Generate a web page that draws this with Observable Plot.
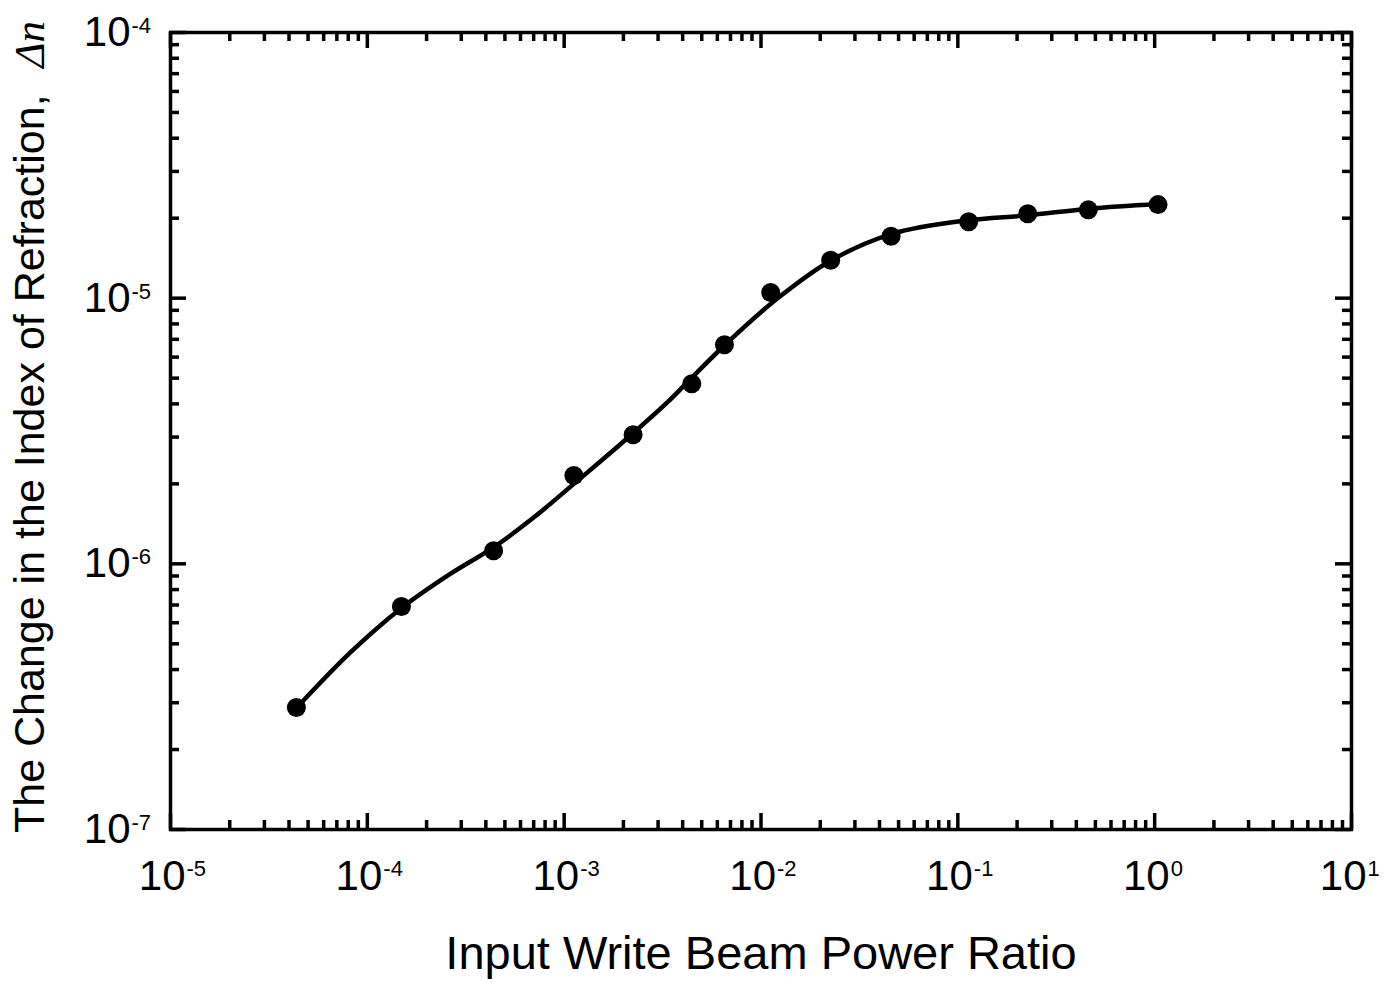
<!DOCTYPE html>
<html><head><meta charset="utf-8">
<script src="https://cdn.jsdelivr.net/npm/d3@7"></script>
<script src="https://cdn.jsdelivr.net/npm/@observablehq/plot@0.6"></script>
<style>body{margin:0;background:#fff}</style>
</head><body><div id="chart"></div>
<script>
// Measured data points (input write beam power ratio, Δn)
const pointX = [4.36e-5, 1.49e-4, 4.38e-4, 1.12e-3, 2.24e-3, 4.45e-3, 6.52e-3, 1.12e-2, 2.26e-2, 4.58e-2, 0.1135, 0.2265, 0.46, 1.04];
const pointY = [2.88e-7, 6.91e-7, 1.12e-6, 2.15e-6, 3.06e-6, 4.76e-6, 6.68e-6, 1.05e-5, 1.39e-5, 1.71e-5, 1.94e-5, 2.08e-5, 2.15e-5, 2.25e-5];
// Fitted smooth curve
const curveX = [4.41e-5, 8.23e-5, 1.476e-4, 2.65e-4, 4.40e-4, 7.02e-4, 1.12e-3, 1.59e-3, 2.26e-3, 3.34e-3, 4.51e-3, 6.76e-3, 1.21e-2, 2.28e-2, 4.68e-2, 0.110, 0.226, 0.465, 1.04];
const curveY = [2.89e-7, 4.65e-7, 6.78e-7, 9.18e-7, 1.156e-6, 1.496e-6, 2.00e-6, 2.49e-6, 3.12e-6, 4.05e-6, 5.07e-6, 6.81e-6, 9.97e-6, 1.39e-5, 1.75e-5, 1.96e-5, 2.05e-5, 2.17e-5, 2.26e-5];
// Tick labels (decade exponents)
const xDecades = [-5, -4, -3, -2, -1, 0, 1];
const yDecades = [-7, -6, -5, -4];
const xTitle = "Input Write Beam Power Ratio";
const yTitle = "The Change in the Index of Refraction,";
const yTitleSym = "Δn";

const points = pointX.map((x, i) => ({x, y: pointY[i]}));
const curve = curveX.map((x, i) => ({x, y: curveY[i]}));
const mults = [2, 3, 4, 5, 6, 7, 8, 9];
const xMajor = xDecades.map(e => Math.pow(10, e));
const xMinor = xDecades.slice(0, -1).flatMap(e => mults.map(m => m * Math.pow(10, e)));
const yMajor = yDecades.map(e => Math.pow(10, e));
const yMinor = yDecades.slice(0, -1).flatMap(e => mults.map(m => m * Math.pow(10, e)));
const expText = e => (e < 0 ? "-" + (-e) : String(e));

const W = 1395, H = 983, mL = 170, mR = 44, mT = 32, mB = 154;
const PH = H - mT - mB, PW = W - mL - mR;
const MAJ = 16, MIN = 9, TW = 3.5;
const font = "'Liberation Sans', Arial, Helvetica, sans-serif";

const chart = Plot.plot({
  width: W, height: H,
  marginLeft: mL, marginRight: mR, marginTop: mT, marginBottom: mB,
  x: {type: "log", domain: [1e-5, 10], axis: null},
  y: {type: "log", domain: [1e-7, 1e-4], axis: null},
  style: {fontFamily: font, background: "#fff", color: "#000", overflow: "visible"},
  marks: [
    // ticks (inward) on all four sides
    Plot.tickX(xMajor, {x: d => d, insetTop: PH - MAJ, strokeWidth: TW}),
    Plot.tickX(xMajor, {x: d => d, insetBottom: PH - MAJ, strokeWidth: TW}),
    Plot.tickX(xMinor, {x: d => d, insetTop: PH - MIN, strokeWidth: TW}),
    Plot.tickX(xMinor, {x: d => d, insetBottom: PH - MIN, strokeWidth: TW}),
    Plot.tickY(yMajor, {y: d => d, insetRight: PW - MAJ, strokeWidth: TW}),
    Plot.tickY(yMajor, {y: d => d, insetLeft: PW - MAJ, strokeWidth: TW}),
    Plot.tickY(yMinor, {y: d => d, insetRight: PW - MIN, strokeWidth: TW}),
    Plot.tickY(yMinor, {y: d => d, insetLeft: PW - MIN, strokeWidth: TW}),
    Plot.frame({stroke: "#000", strokeWidth: 3.5}),
    // curve and points
    Plot.line(curve, {x: "x", y: "y", curve: "catmull-rom", stroke: "#000", strokeWidth: 4.5}),
    Plot.dot(points, {x: "x", y: "y", r: 9.5, fill: "#000", stroke: null}),
    // x tick labels
    Plot.text(xDecades, {x: e => Math.pow(10, e), text: () => "10", frameAnchor: "bottom", textAnchor: "end", lineAnchor: "middle", dx: 15, dy: 47, fontSize: 42}),
    Plot.text(xDecades, {x: e => Math.pow(10, e), text: expText, frameAnchor: "bottom", textAnchor: "start", lineAnchor: "top", dx: 16, dy: 31, fontSize: 22}),
    // y tick labels
    Plot.text(yDecades, {y: e => Math.pow(10, e), text: () => "10", frameAnchor: "left", textAnchor: "end", lineAnchor: "middle", dx: -40, fontSize: 42}),
    Plot.text(yDecades, {y: e => Math.pow(10, e), text: expText, frameAnchor: "left", textAnchor: "start", lineAnchor: "top", dx: -39, dy: -15, fontSize: 22}),
    // axis titles
    Plot.text([xTitle], {text: d => d, frameAnchor: "bottom", lineAnchor: "bottom", dy: 139, fontSize: 47}),
    Plot.text([yTitle], {text: d => d, frameAnchor: "left", rotate: -90, textAnchor: "start", lineAnchor: "middle", dx: -140, dy: 402, fontSize: 43}),
    Plot.text([yTitleSym], {text: d => d, frameAnchor: "left", rotate: -90, textAnchor: "end", lineAnchor: "middle", dx: -140, dy: -410, fontSize: 43, fontStyle: "italic", fontFamily: "'Liberation Serif', 'Times New Roman', serif"})
  ]
});
document.getElementById("chart").appendChild(chart);
</script>
</body></html>
